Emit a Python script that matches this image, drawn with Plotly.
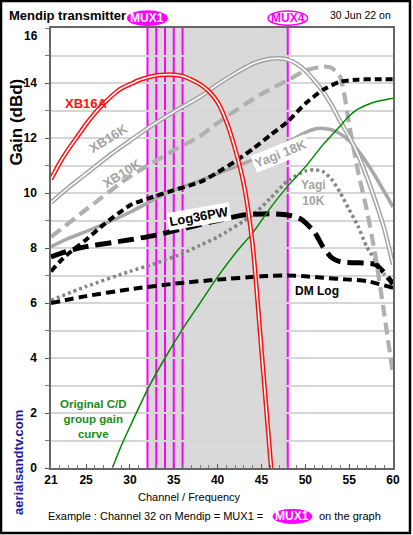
import plotly.graph_objects as go

# ---------------- data ----------------
xb16a_ch = [21, 22, 23, 24, 25, 26, 27, 28, 29, 30, 31, 32, 33, 34, 35, 36, 37, 38, 39, 40, 41, 42, 43, 44, 45, 46, 46.3]
xb16a_g = [10.5, 11.1, 11.6, 12.05, 12.5, 12.9, 13.25, 13.55, 13.8, 13.95, 14.1, 14.2, 14.27, 14.3, 14.3, 14.25, 14.12, 13.95, 13.7, 13.3, 12.6, 11.6, 10.3, 8.1, 4.3, 0.4, -0.8]

xb16k_ch = [21, 23, 25, 28, 30, 32, 35, 38, 40, 42, 44, 46, 47, 48, 49, 50, 51, 52, 53, 54, 55, 56, 57, 58, 59, 60]
xb16k_g = [9.65, 10.2, 10.7, 11.45, 11.9, 12.35, 12.95, 13.5, 13.95, 14.35, 14.7, 14.88, 14.9, 14.85, 14.7, 14.45, 14.1, 13.7, 13.2, 12.6, 12.05, 11.4, 10.6, 9.7, 8.7, 7.4]

xb10k_ch = [21, 25, 30, 35, 38, 40, 43, 45, 48, 50, 52, 53, 54, 55, 56, 57, 58, 59, 60]
xb10k_g = [8.4, 9.4, 10.6, 11.55, 12.07, 12.55, 13.2, 13.6, 14.1, 14.45, 14.6, 14.55, 14.2, 12.5, 10.8, 9.4, 7.7, 5.6, 3.4]

yagi18k_ch = [21, 23, 25, 28, 30, 33, 35, 38, 40, 44, 46, 48, 50, 51, 52, 53, 54, 55, 56, 57, 58, 59, 60]
yagi18k_g = [8.05, 8.35, 8.6, 9.0, 9.3, 9.8, 10.1, 10.45, 10.7, 11.2, 11.5, 11.85, 12.2, 12.32, 12.35, 12.3, 12.15, 11.9, 11.55, 11.1, 10.6, 10.05, 9.5]

wideband_ch = [21, 22, 23, 24, 25, 27, 30, 33, 35, 38, 40, 42, 44, 46, 48, 50, 52, 54, 56, 58, 60]
wideband_g = [7.15, 7.5, 7.8, 8.05, 8.3, 8.85, 9.55, 9.9, 10.1, 10.4, 10.75, 11.15, 11.6, 12.1, 12.6, 13.25, 13.75, 14.05, 14.12, 14.14, 14.14]

log36pw_ch = [21, 23, 25, 28, 30, 33, 36, 40, 43, 46, 48, 49.5, 51, 52, 53, 54, 57, 58, 59, 60]
log36pw_g = [7.68, 7.9, 8.05, 8.2, 8.3, 8.47, 8.7, 9.0, 9.2, 9.25, 9.2, 9.05, 8.6, 8.05, 7.65, 7.5, 7.45, 7.4, 7.1, 6.7]

yagi10k_ch = [21, 25, 30, 33, 36, 38, 40, 44, 46, 48, 50, 51, 52, 53, 54, 55, 56, 57, 58, 59, 60]
yagi10k_g = [6.1, 6.6, 7.15, 7.45, 7.8, 8.1, 8.4, 9.2, 9.8, 10.45, 10.8, 10.85, 10.78, 10.5, 10.0, 9.4, 8.8, 8.05, 7.55, 7.05, 6.6]

dmlog_ch = [21, 25, 30, 35, 40, 45, 48, 50, 52, 55, 57, 60]
dmlog_g = [6.0, 6.25, 6.5, 6.7, 6.85, 6.97, 7.0, 6.97, 6.92, 6.85, 6.8, 6.55]

cd_ch = [28, 29, 30, 32, 34, 36, 38, 40, 42, 44, 46, 48, 50, 52, 53, 54, 55, 56, 57, 58, 60]
cd_g = [0, 0.8, 1.5, 2.85, 4.0, 5.05, 6.0, 6.95, 7.8, 8.55, 9.45, 10.25, 10.95, 11.75, 12.1, 12.45, 12.8, 13.05, 13.2, 13.32, 13.45]

mux_channels = [32, 33, 34, 35, 36, 48]
mux_labels = {32: "MUX1", 48: "MUX4"}
shade_range = [32, 48]

x_tickvals = [21, 25, 30, 35, 40, 45, 50, 55, 60]
y_tickvals = [0, 2, 4, 6, 8, 10, 12, 14]
y_top_label = "16"

# ---------------- figure ----------------
FONT = "Liberation Sans, Arial, sans-serif"
GRAY_D = "#a3a3a3"
fig = go.Figure()


def add_line(x, y, color, width, dash="solid"):
    fig.add_trace(go.Scatter(x=x, y=y, mode="lines", line=dict(color=color, width=width, dash=dash, shape="spline", smoothing=0.6),
                             hoverinfo="skip", showlegend=False))


def add_double(x, y, color):
    add_line(x, y, color, 4.6)
    add_line(x, y, "white", 1.6)


add_line(yagi10k_ch, yagi10k_g, "#858585", 3.5, "3px,3px")
add_line(dmlog_ch, dmlog_g, "black", 4, "9px,5px")
add_line(log36pw_ch, log36pw_g, "black", 5, "16px,7px")
add_line(yagi18k_ch, yagi18k_g, "#a8a8a8", 3.5)
add_line(xb10k_ch, xb10k_g, "#b0b0b0", 4.2, "12px,6px")
add_double(xb16k_ch, xb16k_g, GRAY_D)
add_line(wideband_ch, wideband_g, "black", 4, "7px,4px")
add_line(cd_ch, cd_g, "#008a00", 1.5)
add_double(xb16a_ch, xb16a_g, "#ff1010")

shapes = []
shapes.append(dict(type="rect", xref="x", yref="paper", x0=shade_range[0], x1=shade_range[1], y0=0, y1=1,
                   fillcolor="#d9d9d9", line=dict(width=0), layer="below"))
for ch in mux_channels:
    top = 1.01 if ch in mux_labels else 1
    shapes.append(dict(type="line", xref="x", yref="paper", x0=ch, x1=ch, y0=0, y1=top,
                       line=dict(color="#ff00ff", width=2), layer="between"))

annotations = []
for ch, lab in mux_labels.items():
    filled = lab == "MUX1"
    shapes.append(dict(type="circle", xref="x", yref="paper", x0=ch - 2.25, x1=ch + 2.25, y0=1.006, y1=1.0385,
                       fillcolor="#ff00ff" if filled else "white", line=dict(color="#ff00ff", width=1.5), layer="above"))
    annotations.append(dict(x=ch, y=1.0225, xref="x", yref="paper", text="<b>%s</b>" % lab, showarrow=False,
                            font=dict(family=FONT, size=12, color="white" if filled else "#ff00ff"),
                            xanchor="center", yanchor="middle"))

# bottom example ellipse
shapes.append(dict(type="circle", xref="paper", yref="paper", x0=0.649, x1=0.763, y0=-0.126, y1=-0.094,
                   fillcolor="#ff00ff", line=dict(color="#ff00ff", width=1), layer="above"))
# outer frame
shapes.append(dict(type="rect", xref="paper", yref="paper", x0=-0.1462, x1=1.0497, y0=-0.1477, y1=1.0614,
                   line=dict(color="black", width=2.5), fillcolor="rgba(0,0,0,0)", layer="above"))


def ann(x, y, text, size, color="black", xref="paper", yref="paper", angle=0, xanchor="center", bg=None, bold=True):
    d = dict(x=x, y=y, xref=xref, yref=yref, text=("<b>%s</b>" % text) if bold else text, showarrow=False,
             font=dict(family=FONT, size=size, color=color), textangle=angle, xanchor=xanchor, yanchor="middle")
    if bg:
        d.update(bgcolor=bg, borderpad=1)
    annotations.append(d)


ann(-0.1287, 1.0295, "Mendip transmitter", 13, xanchor="left")
ann(1.0, 1.0295, "30 Jun 22 on", 10.5, xanchor="right", bold=False)
ann(-0.0994, 0.785, "Gain (dBd)", 17, angle=-90)
ann(-0.093, 0.012, "aerialsandtv.com", 13, color="#1c1c9c", angle=-90)
ann(0.4064, -0.066, "Channel / Frequency", 11, bold=False)
ann(0.6345, -0.110, "Example : Channel 32 on Mendip = MUX1 = ", 11, xanchor="right", bold=False)
ann(0.706, -0.110, "MUX1", 12, color="white")
ann(0.7778, -0.110, "on the graph", 11, xanchor="left", bold=False)
# top y label drawn slightly below the top edge, as in the reference
annotations.append(dict(x=-0.032, y=0.982, xref="paper", yref="paper", text="<b>%s</b>" % y_top_label, showarrow=False,
                        font=dict(family=FONT, size=12, color="black"), xanchor="right", yanchor="middle"))

# series labels (data coords)
ann(25.0, 13.25, "XB16A", 13, color="#ff1010", xref="x", yref="y")
ann(27.5, 12.0, "XB16K", 13, color="#a3a3a3", xref="x", yref="y", angle=-32)
ann(29.1, 10.7, "XB10K", 13, color="#a3a3a3", xref="x", yref="y", angle=-32)
ann(47.2, 11.45, "Yagi 18K", 13, color="#a3a3a3", xref="x", yref="y", angle=-22, bg="white")
ann(37.9, 9.15, "Log36PW", 13, color="black", xref="x", yref="y", angle=-10, bg="white")
ann(50.9, 10.0, "Yagi<br>10K", 12, color="#a3a3a3", xref="x", yref="y")
ann(51.3, 6.42, "DM Log", 12, color="black", xref="x", yref="y")
ann(25.8, 1.8, "Original C/D<br>group gain<br>curve", 11.5, color="#1a8c1a", xref="x", yref="y")

fig.update_layout(
    width=413, height=535,
    margin=dict(l=51, r=20, t=28, b=67),
    paper_bgcolor="white", plot_bgcolor="white",
    shapes=shapes, annotations=annotations,
    showlegend=False,
    xaxis=dict(range=[21, 60], tickvals=x_tickvals, ticks="inside", ticklen=4, tickcolor="#555",
               showgrid=False, zeroline=False, showline=True, linecolor="#666", linewidth=1.5, mirror=True,
               tickfont=dict(family=FONT, size=12, color="black", weight="bold"),
               minor=dict(dtick=1, ticks="inside", ticklen=3, tickcolor="#777")),
    yaxis=dict(range=[0, 16], tickvals=y_tickvals, ticks="outside", ticklen=4, tickcolor="#555",
               showgrid=True, gridcolor="#d6d6d6", gridwidth=1.5, zeroline=False,
               showline=True, linecolor="#666", linewidth=1.5, mirror=True, ticklabelstandoff=6,
               tickfont=dict(family=FONT, size=12, color="black", weight="bold"),
               minor=dict(dtick=1, showgrid=True, gridcolor="#d6d6d6", gridwidth=1.5, ticks="outside", ticklen=4, tickcolor="#777")),
)

fig.write_html("out.html", config={"displayModeBar": False},
               post_script="document.body.style.margin='0';document.body.style.padding='0';")
